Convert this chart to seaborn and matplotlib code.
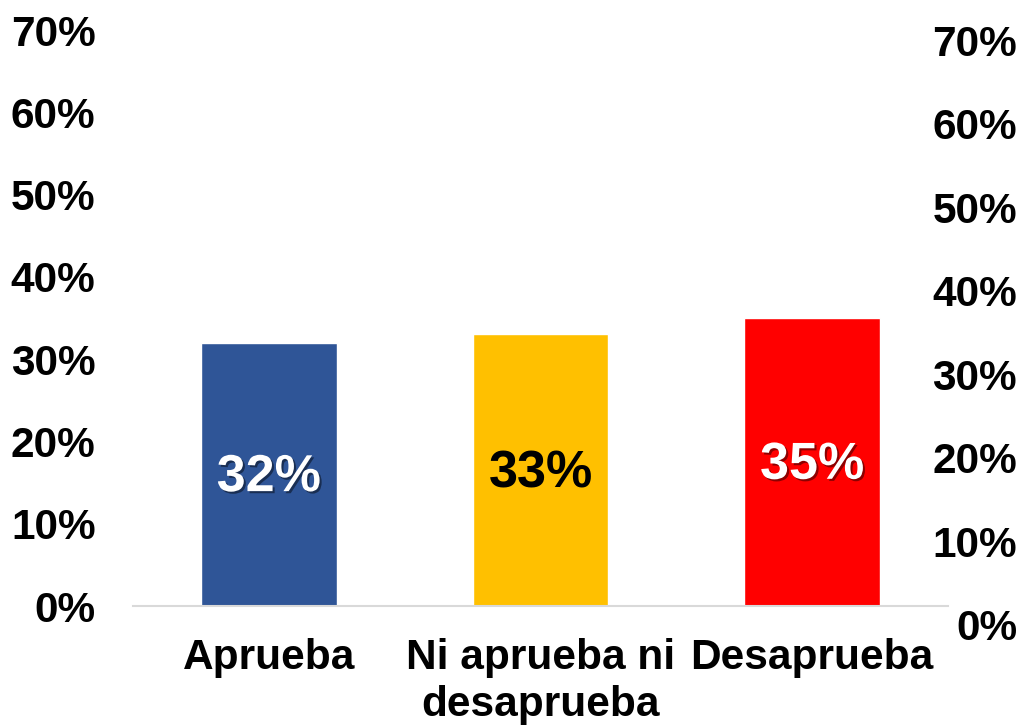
import matplotlib
matplotlib.use("Agg")
import matplotlib.pyplot as plt
import matplotlib.patheffects as pe
import seaborn as sns
import pandas as pd
import numpy as np

# Survey results
categories = ["Aprueba", "Ni aprueba ni\ndesaprueba", "Desaprueba"]
values = [0.32, 0.33, 0.35]
bar_colors = ["#2F5597", "#FFC000", "#FF0000"]
label_colors = ["white", "black", "white"]
tick_values = [0.0, 0.1, 0.2, 0.3, 0.4, 0.5, 0.6, 0.7]
tick_labels = ["0%", "10%", "20%", "30%", "40%", "50%", "60%", "70%"]

sns.set_theme(style="white")
plt.rcParams["font.family"] = ["Liberation Sans", "DejaVu Sans"]

W, H = 1021, 727
fig = plt.figure(figsize=(W / 100, H / 100), dpi=100)

# main axes (left scale)
left_px, right_px = 133, 948
bot_px, top_px = 606, 30
ax = fig.add_axes([left_px / W, (H - bot_px) / H, (right_px - left_px) / W, (bot_px - top_px) / H])

df = pd.DataFrame({"cat": categories, "val": values})
sns.barplot(data=df, x="cat", y="val", hue="cat", palette=bar_colors,
            width=0.5, legend=False, ax=ax, saturation=1.0)

ax.set_xlim(-0.5, 2.5)
ax.set_ylim(0, 0.70)
ax.set_yticks(tick_values)
ax.set_yticklabels(tick_labels, fontsize=30.5, fontweight="bold", color="black")
ax.tick_params(axis="y", length=0, pad=27)
ax.tick_params(axis="x", length=0, pad=23)
ax.set_xticks(range(len(categories)))
ax.set_xticklabels(categories, fontsize=30.5, fontweight="bold", color="black",
                   linespacing=1.22)
ax.set_xlabel("")
ax.set_ylabel("")
for s in ["top", "right", "left"]:
    ax.spines[s].set_visible(False)
ax.spines["bottom"].set_color("#D9D9D9")
ax.spines["bottom"].set_linewidth(1.5)
ax.patch.set_alpha(0)

# value labels inside bars
for i, (v, c) in enumerate(zip(values, label_colors)):
    effects = [pe.withSimplePatchShadow(offset=(1.5, -1.5), shadow_rgbFace="#000000", alpha=0.45)] if c == "white" else []
    ax.text(i, v / 2 - 0.004, f"{round(v * 100)}%", ha="center", va="center",
            fontsize=37.5, fontweight="bold", color=c, path_effects=effects)

# secondary scale on the right
bot2_px, top2_px = 625, 40
ax2 = fig.add_axes([left_px / W, (H - bot2_px) / H, (right_px - left_px) / W, (bot2_px - top2_px) / H])
ax2.set_ylim(0, 0.70)
ax2.set_xticks([])
ax2.yaxis.tick_right()
ax2.set_yticks(tick_values)
ax2.set_yticklabels(tick_labels, fontsize=30.5, fontweight="bold", color="black", ha="right")
ax2.tick_params(axis="y", length=0, pad=(1017 - right_px) * 0.72)
for s in ax2.spines.values():
    s.set_visible(False)
ax2.patch.set_alpha(0)

fig.savefig("out.png", dpi=100, facecolor="white")
